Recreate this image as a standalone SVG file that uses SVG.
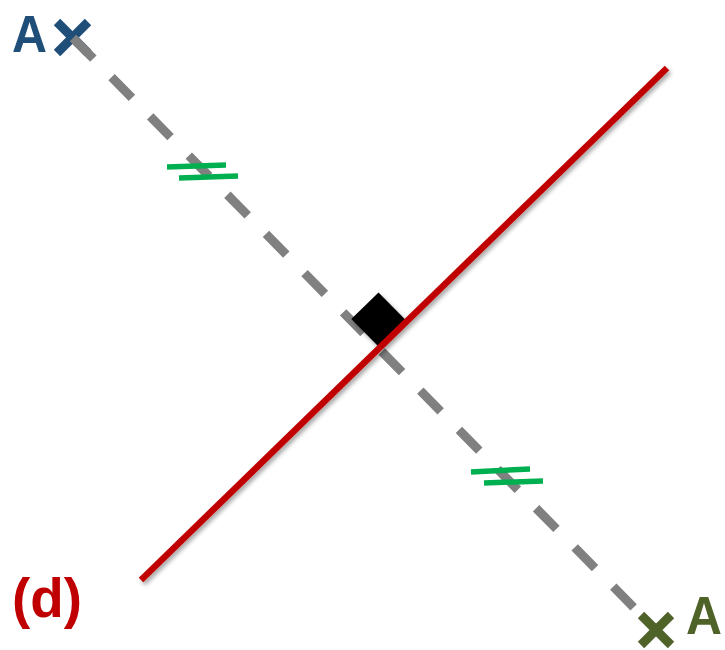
<svg xmlns="http://www.w3.org/2000/svg" width="725" height="650" viewBox="0 0 725 650">
<defs>
<filter id="sh" x="-20%" y="-20%" width="140%" height="140%">
<feDropShadow dx="2" dy="3" stdDeviation="2" flood-color="#000" flood-opacity="0.35"/>
</filter>
<style>
.lbl{font-family:"Liberation Sans",Arial,sans-serif;font-weight:bold;}
.tick{stroke:#00B050;stroke-width:5.5;fill:none;}
</style>
</defs>
<rect width="725" height="650" fill="#fff"/>
<g id="pointA1">
<line x1="57" y1="22" x2="88" y2="53" stroke="#1F4E79" stroke-width="9"/>
<line x1="88" y1="22" x2="57" y2="53" stroke="#1F4E79" stroke-width="9"/>
<text class="lbl" x="12" y="52" font-size="52" fill="#1F4E79" textLength="35" lengthAdjust="spacingAndGlyphs">A</text>
</g>
<g id="connectors">
<line x1="73" y1="38" x2="656" y2="630" stroke="#808080" stroke-width="9" stroke-dasharray="29 26"/>
<polygon points="378,346 405.2,319.5 378.5,292.4 351.3,318.9" fill="#000" filter="url(#sh)"/>
<line x1="141" y1="580" x2="667" y2="68" stroke="#C00000" stroke-width="6.5" filter="url(#sh)"/>
<line class="tick" x1="167" y1="167" x2="226" y2="165"/>
<line class="tick" x1="179" y1="178" x2="238" y2="176"/>
<line class="tick" x1="471" y1="472" x2="530" y2="469"/>
<line class="tick" x1="484" y1="483" x2="543" y2="481"/>
</g>
<g id="pointA2">
<line x1="641" y1="615" x2="671" y2="645" stroke="#4F6228" stroke-width="9"/>
<line x1="671" y1="615" x2="641" y2="645" stroke="#4F6228" stroke-width="9"/>
<text class="lbl" x="686" y="634" font-size="53" fill="#4F6228" textLength="36" lengthAdjust="spacingAndGlyphs">A</text>
</g>
<g id="label-d">
<text class="lbl" x="12" y="617" font-size="56" fill="#C00000" textLength="70" lengthAdjust="spacingAndGlyphs">(d)</text>
</g>
</svg>
